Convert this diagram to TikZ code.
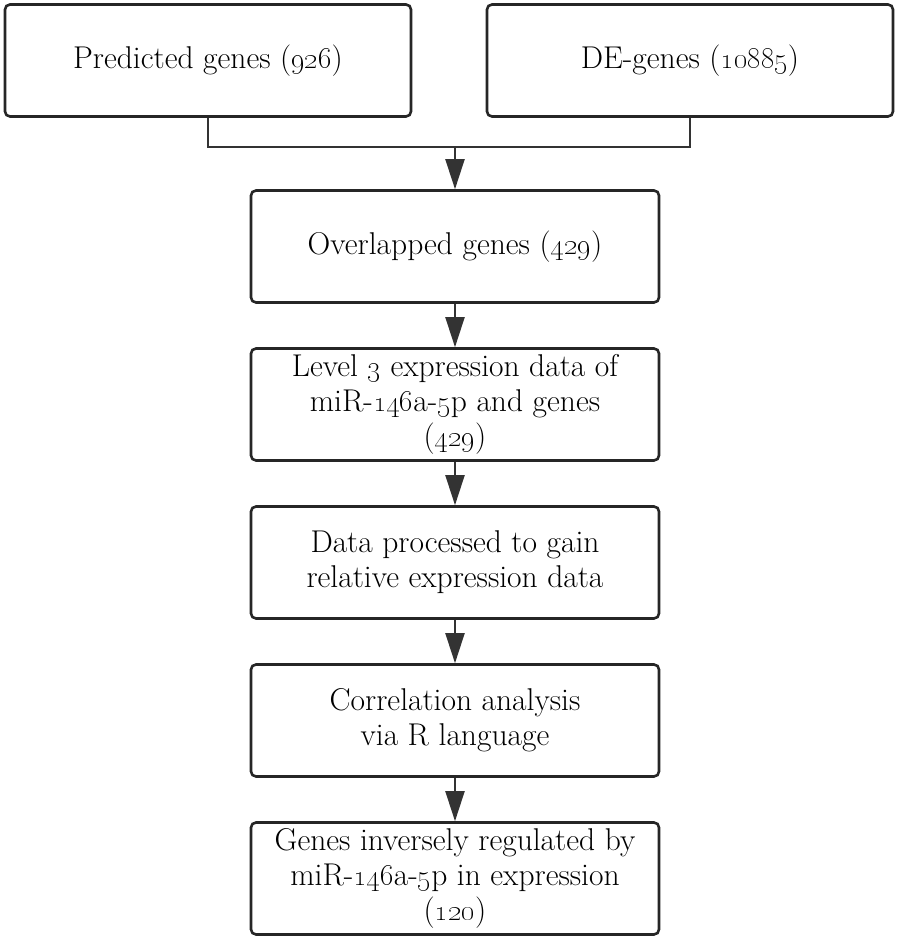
\documentclass[tikz,border=0pt]{standalone}
\usetikzlibrary{arrows.meta}
\newcommand{\osn}[1]{\oldstylenums{#1}}
\begin{document}
\begin{tikzpicture}[x=1pt,y=1pt,
  box/.style={draw=black!85, line width=2.6pt, rounded corners=5pt,
    minimum width=406pt, minimum height=112pt, align=center,
    font=\fontsize{31.5}{35}\selectfont, inner sep=0pt},
  cbox/.style={box, minimum width=408pt},
  conn/.style={draw=black!80, line width=2pt},
  arr/.style={conn, -{Triangle[length=30pt,width=19pt]}}]
\useasboundingbox (0,0) rectangle (898,938);
\node[box] (a) at (208,877.5) {Predicted genes (\osn{926})};
\node[box] (b) at (690,877.5) {DE-genes (\osn{10885})};
\node[cbox] (c) at (455,691.5) {Overlapped genes (\osn{429})};
\node[cbox] (d) at (455,533.5) {Level \osn{3} expression data of\\ miR-\osn{146}a-\osn{5}p and genes\\ (\osn{429})};
\node[cbox] (e) at (455,375.5) {Data processed to gain\\ relative expression data};
\node[cbox] (f) at (455,217.5) {Correlation analysis\\ via R language};
\node[cbox] (g) at (455,59.5) {Genes inversely regulated by\\ miR-\osn{146}a-\osn{5}p in expression\\ (\osn{120})};
\coordinate (m) at (455,791);
\draw[conn] (a.south) |- (m) -| (b.south);
\draw[arr] (m) -- (c.north);
\draw[arr] (c.south) -- (d.north);
\draw[arr] (d.south) -- (e.north);
\draw[arr] (e.south) -- (f.north);
\draw[arr] (f.south) -- (g.north);
\end{tikzpicture}
\end{document}
